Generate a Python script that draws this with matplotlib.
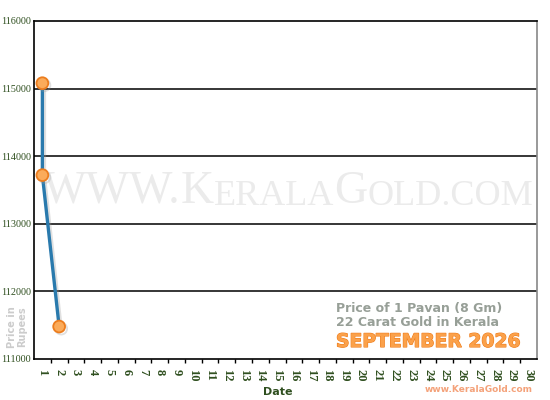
import matplotlib
matplotlib.use('Agg')
import matplotlib.pyplot as plt
import matplotlib.patheffects as pe
import numpy as np

# gold price for September 2026 (22 carat, 1 pavan)
days = [1, 1, 2]
prices = [115080, 113720, 111480]
day_ticks = list(range(1, 31))
price_ticks = [111000, 112000, 113000, 114000, 115000, 116000]

green = '#2f4f1f'

fig = plt.figure(figsize=(5.5, 4), dpi=100)
ax = fig.add_axes([34/550, 1-359/400, (537-34)/550, (359-21)/400])

ax.set_xlim(0.5, 30.5)
ax.set_ylim(111000, 116000)

# grid lines
for p in price_ticks[1:-1]:
    ax.axhline(p, color='black', lw=1.1, zorder=1)

# watermark in small caps
wm = dict(color='#ebebeb', family='Liberation Serif', zorder=0)
pieces = [('WWW.', 33), ('K', 33), ('ERALA', 26), ('G', 33), ('OLD.COM', 26)]
t = ax.text(43/550, 1-203/400, pieces[0][0], transform=fig.transFigure,
            fontsize=pieces[0][1], va='baseline', ha='left', **wm)
for s, fs in pieces[1:]:
    t = ax.annotate(s, xy=(1, 0), xycoords=t, fontsize=fs,
                    va='bottom', ha='left', **wm)

line, = ax.plot(days, prices, color='#2a7aad', lw=2.4, marker='o', ms=8.5,
                mfc='#fbab5a', mec='#ec7d1e', mew=1.3, zorder=5)
line.set_path_effects([pe.SimpleLineShadow(offset=(1.5, -1.5), shadow_color='#999999', alpha=0.3),
                       pe.Normal()])

ax.set_yticks(price_ticks)
ax.set_yticklabels([str(p) for p in price_ticks], family='Liberation Serif',
                   fontsize=7.3, color=green)
ax.tick_params(axis='y', length=0, pad=2)

ax.set_xticks(day_ticks)
ax.set_xticklabels([str(d) for d in day_ticks], family='Liberation Serif',
                   fontsize=9, color=green, rotation=270, fontweight='bold')
ax.set_xticks(np.arange(1.5, 30.5, 1), minor=True)
ax.tick_params(axis='x', which='major', length=0, pad=7)
ax.tick_params(axis='x', which='minor', length=3, width=1, color='black')

for side in ['left', 'bottom', 'top']:
    ax.spines[side].set_color('black')
    ax.spines[side].set_linewidth(1.2)
ax.spines['right'].set_color('#888888')
ax.spines['right'].set_linewidth(1.2)

fig.text(278/550, 1-392/400, 'Date', ha='center', va='center',
         fontsize=8, fontweight='bold', color=green)
fig.text(17/550, 1-327/400, 'Price in\nRupees', ha='center', va='center',
         rotation=90, fontsize=7, fontweight='bold', color='#cccccc',
         linespacing=1.0)

fig.text(336/550, 1-312/400, 'Price of 1 Pavan (8 Gm)', ha='left', va='baseline',
         fontsize=9, fontweight='bold', color='#979f97')
fig.text(336/550, 1-326/400, '22 Carat Gold in Kerala', ha='left', va='baseline',
         fontsize=9, fontweight='bold', color='#979f97')
fig.text(336/550, 1-347/400, 'SEPTEMBER 2026', ha='left', va='baseline',
         fontsize=13.5, fontweight='bold', color='#fba14a',
         path_effects=[pe.withStroke(linewidth=0.8, foreground='#ee7a18')])
fig.text(533/550, 1-390/400, 'www.KeralaGold.com', ha='right', va='center',
         fontsize=6.5, fontweight='bold', color='#f4a27a')

fig.savefig('out.png', dpi=100)
